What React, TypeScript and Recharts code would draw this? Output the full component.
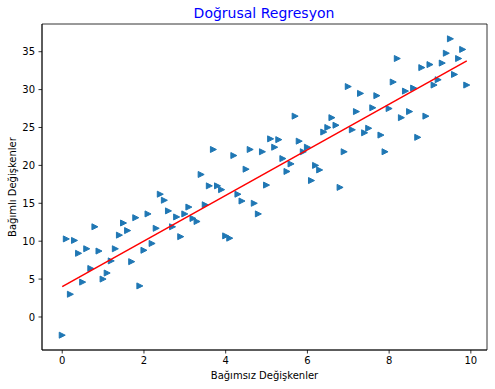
import React from "react"
import { ScatterChart, Scatter, XAxis, YAxis, ReferenceArea, Label } from "recharts"

const xValues = [
  0, 0.1, 0.2, 0.3, 0.4, 0.5, 0.6, 0.7, 0.8, 0.9,
  1, 1.1, 1.2, 1.3, 1.4, 1.5, 1.6, 1.7, 1.8, 1.9,
  2, 2.1, 2.2, 2.3, 2.4, 2.5, 2.6, 2.7, 2.8, 2.9,
  3, 3.1, 3.2, 3.3, 3.4, 3.5, 3.6, 3.7, 3.8, 3.9,
  4, 4.1, 4.2, 4.3, 4.4, 4.5, 4.6, 4.7, 4.8, 4.9,
  5, 5.1, 5.2, 5.3, 5.4, 5.5, 5.6, 5.7, 5.8, 5.9,
  6, 6.1, 6.2, 6.3, 6.4, 6.5, 6.6, 6.7, 6.8, 6.9,
  7, 7.1, 7.2, 7.3, 7.4, 7.5, 7.6, 7.7, 7.8, 7.9,
  8, 8.1, 8.2, 8.3, 8.4, 8.5, 8.6, 8.7, 8.8, 8.9,
  9, 9.1, 9.2, 9.3, 9.4, 9.5, 9.6, 9.7, 9.8, 9.9,
]

const yValues = [
  -2.4, 10.3, 3.0, 10.1, 8.4, 4.6, 9.0, 6.4, 11.9, 8.7,
  5.0, 5.8, 7.4, 9.0, 10.8, 12.4, 11.4, 7.3, 13.1, 4.1,
  8.8, 13.6, 9.7, 11.7, 16.2, 15.4, 14.0, 11.9, 13.2, 10.6,
  13.6, 14.5, 13.0, 12.6, 18.8, 14.8, 17.3, 22.1, 17.3, 16.8,
  10.7, 10.4, 21.3, 16.2, 15.3, 19.5, 22.1, 15.0, 13.6, 21.8,
  17.4, 23.5, 22.4, 23.4, 20.9, 19.2, 20.2, 26.5, 23.2, 21.8,
  22.4, 18.0, 20.0, 19.4, 24.4, 25.0, 26.3, 25.3, 17.1, 21.8,
  30.4, 24.7, 27.1, 29.5, 24.3, 24.9, 27.6, 29.2, 24.0, 21.8,
  27.5, 31.0, 34.1, 26.3, 29.8, 27.1, 30.2, 23.7, 32.9, 26.5,
  33.3, 30.6, 31.3, 33.5, 34.8, 36.7, 32.0, 34.1, 35.3, 30.6,
]

// fitted line end points
const fitX = [0, 9.9]
const fitY = [4.0, 33.8]

const xTicks = [0, 2, 4, 6, 8, 10]
const yTicks = [0, 5, 10, 15, 20, 25, 30, 35]

const points = xValues.map((x, i) => ({ x, y: yValues[i] }))
const fitLine = fitX.map((x, i) => ({ x, y: fitY[i] }))

// matplotlib style 5% autoscale margin
function padded(vals: number[]): [number, number] {
  const lo = Math.min(...vals)
  const hi = Math.max(...vals)
  const m = (hi - lo) * 0.05
  return [lo - m, hi + m]
}

const xDomain = padded(xValues)
const yDomain = padded(yValues)

const BLUE = "#1f77b4"
const FONT = "DejaVu Sans, sans-serif"

const TriangleRight = (props: any) => {
  const { cx, cy } = props
  if (cx == null || cy == null) return <g />
  const r = 3
  return (
    <polygon
      points={`${cx + r},${cy} ${cx - r},${cy - r} ${cx - r},${cy + r}`}
      fill={BLUE}
      stroke={BLUE}
      strokeWidth={1}
      strokeLinejoin="miter"
    />
  )
}

const NoDot = () => <g />

export default function App() {
  const axisStyle = { stroke: "#000", strokeWidth: 0.8 }
  const tickStyle = { fill: "#000", fontSize: 10, fontFamily: FONT }
  return (
    <div style={{ position: "absolute", left: 0, top: 0, background: "#fff" }}>
      <ScatterChart
        width={495}
        height={389}
        margin={{ top: 24, right: 8, bottom: 0, left: 12 }}
        style={{ fontFamily: FONT }}
      >
        <text x={264} y={18} textAnchor="middle" fill="blue" fontSize={14} fontFamily={FONT}>
          Doğrusal Regresyon
        </text>
        <XAxis
          type="number"
          dataKey="x"
          domain={xDomain}
          ticks={xTicks}
          allowDataOverflow
          height={39}
          tick={tickStyle}
          tickSize={3.5}
          tickMargin={3.5}
          axisLine={axisStyle}
          tickLine={axisStyle}
        >
          <Label
            value="Bağımsız Değişkenler"
            position="insideBottom"
            offset={10}
            style={{ fill: "#000", fontSize: 10, fontFamily: FONT }}
          />
        </XAxis>
        <YAxis
          type="number"
          dataKey="y"
          domain={yDomain}
          ticks={yTicks}
          allowDataOverflow
          width={30}
          tick={tickStyle}
          tickSize={3.5}
          tickMargin={3.5}
          axisLine={axisStyle}
          tickLine={axisStyle}
        >
          <Label
            value="Bağımlı Değişkenler"
            angle={-90}
            position="insideLeft"
            offset={0}
            style={{ textAnchor: "middle", fill: "#000", fontSize: 10, fontFamily: FONT }}
          />
        </YAxis>
        <ReferenceArea
          x1={xDomain[0]}
          x2={xDomain[1]}
          y1={yDomain[0]}
          y2={yDomain[1]}
          fill="none"
          fillOpacity={0}
          stroke="#000"
          strokeWidth={0.8}
          ifOverflow="visible"
        />
        <Scatter data={points} shape={<TriangleRight />} isAnimationActive={false} />
        <Scatter
          data={fitLine}
          line={{ stroke: "#ff0000", strokeWidth: 1.5 }}
          shape={<NoDot />}
          isAnimationActive={false}
        />
      </ScatterChart>
    </div>
  )
}
